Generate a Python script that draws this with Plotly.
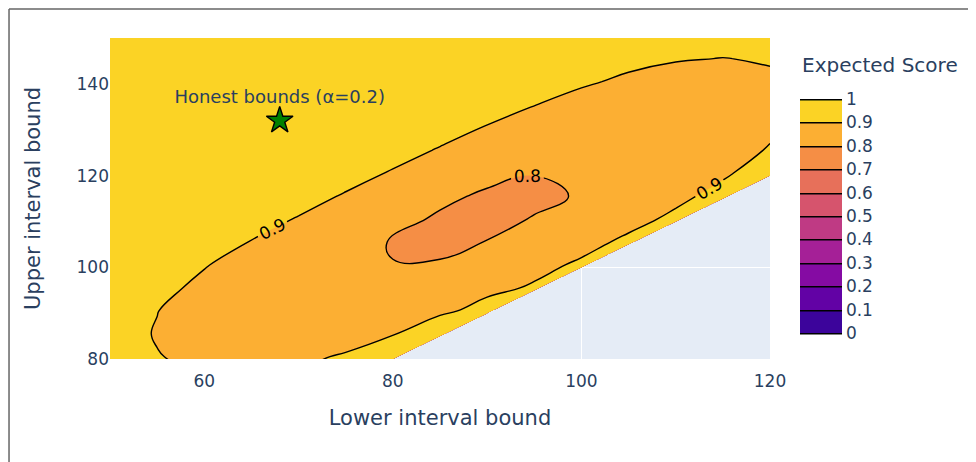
import plotly.graph_objects as go
from plotly.colors import sample_colorscale

# Lower interval bound (x) and upper interval bound (y) grid
lower_bounds = [50, 55, 60, 65, 70, 75, 80, 85, 90, 95, 100, 105, 110, 115, 120]
upper_bounds = [75.5, 80.5, 85.5, 90.5, 95.5, 100.5, 105.5, 110.5,
                115.5, 120.5, 125.5, 130.5, 135.5, 140.5, 145.5, 150.5]

N = None
# Expected score, one row per upper bound (None where upper < lower)
expected_score = [
    [0.923, 0.912, 0.902, 0.901, 0.913, 0.950, N, N, N, N, N, N, N, N, N],
    [0.919, 0.902, 0.889, 0.881, 0.884, 0.908, 0.936, N, N, N, N, N, N, N, N],
    [0.921, 0.897, 0.878, 0.865, 0.858, 0.866, 0.896, 0.980, N, N, N, N, N, N, N],
    [0.932, 0.901, 0.875, 0.854, 0.841, 0.839, 0.854, 0.880, 0.934, N, N, N, N, N, N],
    [0.949, 0.920, 0.883, 0.854, 0.830, 0.819, 0.824, 0.845, 0.877, 0.910, N, N, N, N, N],
    [0.966, 0.942, 0.904, 0.869, 0.834, 0.812, 0.801, 0.803, 0.830, 0.875, 0.913, N, N, N, N],
    [0.980, 0.963, 0.936, 0.897, 0.859, 0.822, 0.797, 0.791, 0.801, 0.832, 0.873, 0.917, N, N, N],
    [0.990, 0.979, 0.960, 0.931, 0.895, 0.853, 0.816, 0.793, 0.789, 0.802, 0.832, 0.874, 0.917, N, N],
    [0.995, 0.989, 0.978, 0.959, 0.930, 0.893, 0.852, 0.811, 0.792, 0.792, 0.803, 0.837, 0.881, 0.925, N],
    [0.998, 0.995, 0.989, 0.978, 0.958, 0.929, 0.893, 0.854, 0.815, 0.801, 0.804, 0.818, 0.849, 0.889, 0.939],
    [0.998, 0.998, 0.995, 0.989, 0.977, 0.958, 0.929, 0.894, 0.858, 0.828, 0.817, 0.820, 0.837, 0.866, 0.906],
    [0.998, 0.998, 0.998, 0.995, 0.988, 0.977, 0.958, 0.930, 0.896, 0.864, 0.842, 0.835, 0.843, 0.860, 0.886],
    [0.998, 0.998, 0.998, 0.998, 0.995, 0.988, 0.978, 0.958, 0.932, 0.902, 0.874, 0.858, 0.857, 0.867, 0.884],
    [0.998, 0.998, 0.998, 0.998, 0.998, 0.995, 0.989, 0.978, 0.960, 0.936, 0.910, 0.887, 0.877, 0.881, 0.892],
    [0.998, 0.998, 0.998, 0.998, 0.998, 0.998, 0.995, 0.989, 0.979, 0.963, 0.942, 0.919, 0.904, 0.899, 0.904],
    [0.998, 0.998, 0.998, 0.998, 0.998, 0.998, 0.998, 0.995, 0.990, 0.980, 0.966, 0.949, 0.932, 0.921, 0.920],
]

honest_lower = [68]
honest_upper = [132]
honest_label = ["Honest bounds (α=0.2)"]

# Plasma colours at the band positions used for filled contours
stops = [0.0] + [k / 10 + 0.05 for k in range(10)] + [1.0]
cols = sample_colorscale("Plasma", [(t + 0.05) / 1.1 for t in stops])
colorscale = [[t, c] for t, c in zip(stops, cols)]

fig = go.Figure()
fig.add_trace(go.Contour(
    x=lower_bounds, y=upper_bounds, z=expected_score,
    colorscale=colorscale, zmin=0, zmax=1,
    contours=dict(start=0, end=1, size=0.1, showlabels=True,
                  labelfont=dict(size=17, color="black")),
    line=dict(width=1.4, color="black", smoothing=1.3),
    colorbar=dict(tickfont=dict(size=17), thickness=42, tick0=0, dtick=0.1,
                  outlinewidth=0,
                  x=1.0455, xanchor="left", xpad=0,
                  lenmode="pixels", len=234, y=0.081, yanchor="bottom", ypad=0),
))
fig.add_trace(go.Scatter(
    x=honest_lower, y=honest_upper, mode="markers+text",
    text=honest_label, textposition="top center",
    textfont=dict(size=18, color="#2a3f5f"),
    marker=dict(symbol="star", size=20, color="green", line=dict(width=1.4, color="black")),
    showlegend=False,
))
fig.add_annotation(xref="paper", yref="paper", x=1.0455, y=0.9159, xanchor="left", yanchor="middle",
                   text="Expected Score", showarrow=False, font=dict(size=20, color="#2a3f5f"))
fig.update_layout(
    width=976, height=462,
    margin=dict(l=102, r=214, t=30, b=111),
    font=dict(family="Verdana, DejaVu Sans, sans-serif", size=17, color="#2a3f5f"),
    plot_bgcolor="#E5ECF6", paper_bgcolor="white",
    xaxis=dict(title=dict(text="Lower interval bound", font=dict(size=21), standoff=20),
               range=[50, 120], tickvals=[60, 80, 100, 120], gridcolor="white",
               zeroline=False, showline=False, ticks="", ticklabelstandoff=10),
    yaxis=dict(title=dict(text="Upper interval bound", font=dict(size=21), standoff=30),
               range=[80, 150], tickvals=[80, 100, 120, 140], gridcolor="white",
               zeroline=False, showline=False, ticks=""),
    shapes=[
        dict(type="line", xref="paper", yref="paper", x0=-0.153, x1=-0.153, y0=1.0903, y1=-0.4,
             line=dict(color="#666666", width=1.5)),
        dict(type="line", xref="paper", yref="paper", x0=-0.153, x1=1.35, y0=1.0903, y1=1.0903,
             line=dict(color="#666666", width=1.5)),
    ],
)
fig.write_html("out.html")
